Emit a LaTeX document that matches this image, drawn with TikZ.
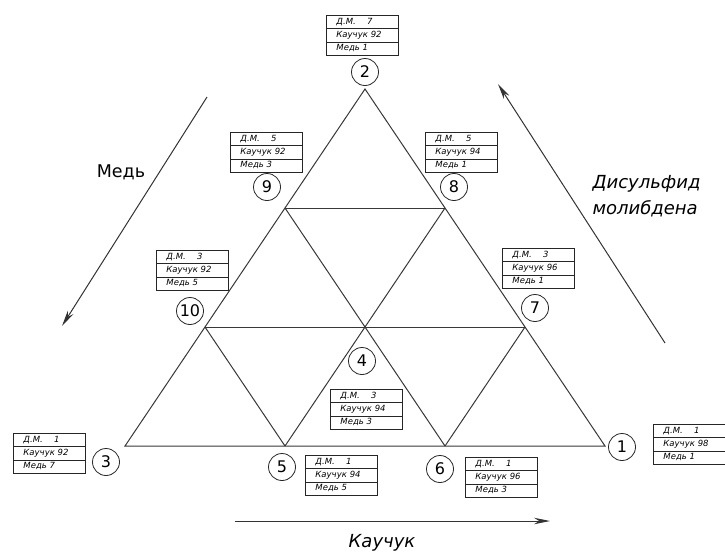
\documentclass[tikz,border=0pt]{standalone}
\usepackage{fontspec}
\setmainfont{DejaVu Sans}
\usetikzlibrary{arrows.meta,shapes.multipart}
\tikzset{
  setka/.style={line width=1pt, color=black!78},
  nomer/.style={circle, draw=black!85, line width=0.8pt, minimum size=27pt, inner sep=0pt, font=\fontsize{16}{16}\selectfont},
  sostav/.style={rectangle split, rectangle split parts=3, draw=black!85, line width=0.9pt, anchor=north west, inner xsep=10pt, inner ysep=1.5pt, text width=52pt, align=left, font=\fontsize{8.5}{9.5}\selectfont\itshape},
  strelka/.style={line width=1pt, color=black!80, -{Stealth[length=16pt,width=6.5pt]}},
  os/.style={font=\fontsize{18}{26}\selectfont\itshape, align=left}
}
\def\sostav(#1)(#2)[#3:#4:#5]{\node[sostav] (#1) at (#2) {\strut Д.М.\quad\ #3\nodepart{two}\strut Каучук #4\nodepart{three}\strut Медь #5};}

\begin{document}
\begin{tikzpicture}[x=1pt, y=-1pt]
		\useasboundingbox (0,0) rectangle (725,555);
		
		%%%%% TRIANGLE %%%%%
		\coordinate (v1) at (605,446);
		\coordinate (v2) at (365,89);
		\coordinate (v3) at (125,446);
		\coordinate (p4) at (365,327);
		\coordinate (p5) at (285,446);
		\coordinate (p6) at (445,446);
		\coordinate (p7) at (525,327);
		\coordinate (p8) at (445,208);
		\coordinate (p9) at (285,208);
		\coordinate (p10) at (205,327);
		
		\draw[setka] (v1) -- (v2) -- (v3) -- cycle;
		\draw[setka] (p9) -- (p8);
		\draw[setka] (p10) -- (p7);
		\draw[setka] (p9) -- (p6);
		\draw[setka] (p8) -- (p5);
		\draw[setka] (p10) -- (p5);
		\draw[setka] (p7) -- (p6);
		
		%%%%% POINTS %%%%%
		\node[nomer] (n1) at (622,447) {1};
		\node[nomer] (n2) at (365,72) {2};
		\node[nomer] (n3) at (106,462) {3};
		\node[nomer] (n4) at (362,361) {4};
		\node[nomer] (n5) at (282,467) {5};
		\node[nomer] (n6) at (440,469) {6};
		\node[nomer] (n7) at (535,308) {7};
		\node[nomer] (n8) at (454,187) {8};
		\node[nomer] (n9) at (267,187) {9};
		\node[nomer] (n10) at (190,311) {10};
		
		\sostav(b1)(653,424)[1:98:1]
		\sostav(b2)(326,15)[7:92:1]
		\sostav(b3)(13,433)[1:92:7]
		\sostav(b4)(330,389)[3:94:3]
		\sostav(b5)(305,455)[1:94:5]
		\sostav(b6)(465,457)[1:96:3]
		\sostav(b7)(502,248)[3:96:1]
		\sostav(b8)(425,132)[5:94:1]
		\sostav(b9)(230,132)[5:92:3]
		\sostav(b10)(156,250)[3:92:5]
		
		%%%%% AXES %%%%%
		\coordinate (med0) at (207,97);
		\coordinate (med1) at (62,326);
		\draw[strelka] (med0) -- (med1);
		\node[font=\fontsize{17.5}{17.5}\selectfont] (med) at (121,172) {Медь};
		
		\coordinate (mos0) at (665,343);
		\coordinate (mos1) at (498,84);
		\draw[strelka] (mos0) -- (mos1);
		\node[os, anchor=west] (mos) at (589,196) {Дисульфид\\молибдена};
		
		\coordinate (kau0) at (235,521);
		\coordinate (kau1) at (550,521);
		\draw[strelka] (kau0) -- (kau1);
		\node[os] (kau) at (382,543) {Каучук};
		
\end{tikzpicture}
\end{document}
